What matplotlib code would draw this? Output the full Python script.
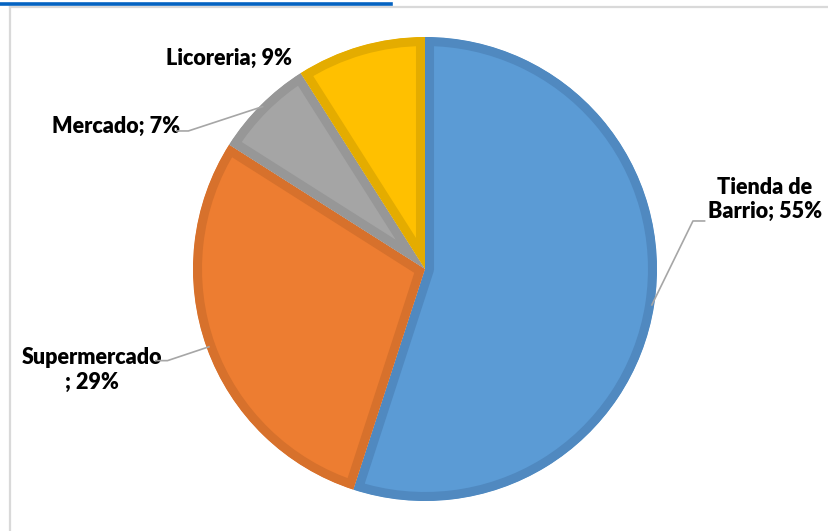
import numpy as np
import matplotlib.pyplot as plt
from matplotlib.lines import Line2D

plt.rcParams['font.family'] = ['Lato', 'DejaVu Sans']

labels = ['Tienda de\nBarrio', 'Supermercado\n', 'Mercado', 'Licoreria']
values = [55, 29, 7, 9]
fills = ['#5B9BD5', '#ED7D31', '#A5A5A5', '#FFC000']
edges = ['#5089C0', '#D7712C', '#979797', '#E4AC00']

W, H = 829, 531
cx, cy, R = 425, 269, 232

fig = plt.figure(figsize=(W / 100, H / 100), dpi=100)
fig.patch.set_facecolor('white')

# chart frame and the hyperlink underline above it
fig.add_artist(Line2D([10 / W, 10 / W], [0, 1 - 7 / H], color='#d9d9d9', lw=1.6))
fig.add_artist(Line2D([10 / W, 1], [1 - 7 / H, 1 - 7 / H], color='#d9d9d9', lw=1.6))
fig.add_artist(Line2D([0, 391 / W], [1 - 3.5 / H, 1 - 3.5 / H], color='#0563C1', lw=2.6))

ax = fig.add_axes([(cx - R) / W, 1 - (cy + R) / H, 2 * R / W, 2 * R / H])
# border drawn twice as wide and clipped to its wedge -> band lies inside
lw = 13
wedges, _ = ax.pie(values, startangle=90, counterclock=False, radius=1,
                   colors=fills, wedgeprops={'linewidth': lw})
for w, ec in zip(wedges, edges):
    w.set_edgecolor(ec)
    w.set_joinstyle('round')
    w.set_clip_on(True)
    w.set_clip_path(w)
ax.set_xlim(-1, 1)
ax.set_ylim(-1, 1)
ax.set_aspect('equal')
ax.axis('off')

# label text positions (pie units) and leader line elbows
txt_pos = [(1.465, 0.30), (-1.435, -0.435), (-1.056, 0.616), (-0.845, 0.909)]
elbow = [(1.155, 0.207), (-1.11, -0.395), (-1.02, 0.595), None]
ha = ['center', 'center', 'right', 'center']

angles = 90 - 360 * (np.cumsum(values) - np.array(values) / 2) / sum(values)
for i, lab in enumerate(labels):
    pct = '%d%%' % values[i]
    text = lab + '; ' + pct if i != 1 else 'Supermercado\n; ' + pct
    ax.text(txt_pos[i][0], txt_pos[i][1], text, ha=ha[i], va='center',
            fontsize=15.5, fontweight='heavy', color='black', linespacing=1.2,
            clip_on=False)
    if elbow[i] is not None:
        a = np.deg2rad(angles[i])
        px, py = 0.99 * np.cos(a), 0.99 * np.sin(a)
        ex, ey = elbow[i]
        sx = ex + (0.05 if ex > 0 else -0.05)
        ax.plot([sx, ex, px], [ey, ey, py], color='#a6a6a6', lw=1.2,
                clip_on=False, zorder=5)

fig.savefig('out.png', dpi=100)
